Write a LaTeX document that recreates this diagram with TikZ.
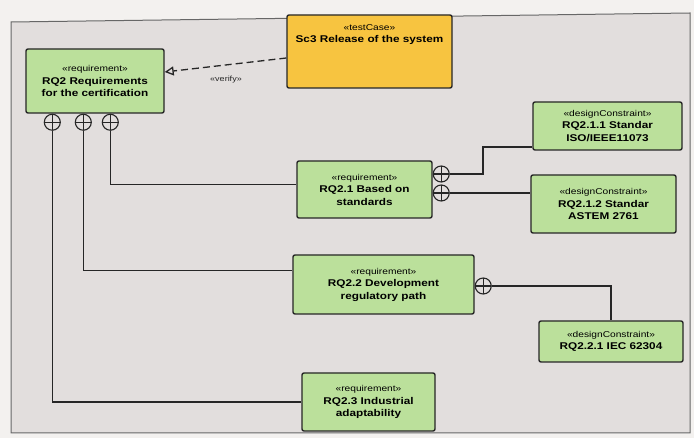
\documentclass[tikz,border=0pt]{standalone}
\usepackage{fontspec}
\newfontfamily\umlfont{Liberation Sans}[FakeStretch=1.2]
\usetikzlibrary{arrows.meta,calc}
\definecolor{panel}{HTML}{E2DEDD}
\definecolor{paper}{HTML}{F3F1EF}
\definecolor{boxgreen}{HTML}{BBE09B}
\definecolor{boxyellow}{HTML}{F7C440}
\definecolor{ink}{HTML}{262626}
\newcommand{\umlst}[1]{{\fontsize{8.5}{12.5}\selectfont\mdseries «#1»}}
\begin{document}
\begin{tikzpicture}[x=1pt,y=-1pt,
  umlbox/.style={draw=ink, line width=1.4pt, rounded corners=2pt, fill=boxgreen,
    inner sep=0pt, align=center, font=\umlfont\fontsize{9.8}{12.5}\selectfont\bfseries},
  tcbox/.style={umlbox, fill=boxyellow},
  contain/.style={circle, draw=ink, line width=1.1pt, fill=panel, minimum size=16pt, inner sep=0pt,
    path picture={\draw[ink, line width=1.1pt] (path picture bounding box.north) -- (path picture bounding box.south)
      (path picture bounding box.west) -- (path picture bounding box.east);}},
  conn/.style={draw=ink, line width=1.1pt},
  realize/.style={draw=ink, line width=1.3pt, dash pattern=on 7pt off 4pt,
    -{Triangle[open, length=9pt, width=9pt]}}
]
\useasboundingbox (0,0) rectangle (694,438);
\fill[paper] (0,0) rectangle (694,438);
\draw[fill=panel, draw=ink!70, line width=1pt] (11,22) -- (690,13) -- (690,433) -- (11,433) -- cycle;

% boxes
\node[umlbox, minimum width=138pt, minimum height=64pt] (rq2) at (95,81)
  {\umlst{requirement}\\RQ2 Requirements\\for the certification};
\node[tcbox, minimum width=165pt, minimum height=73pt] (tc) at (369.5,51.5) {};
\node[font=\umlfont\fontsize{9.8}{12.5}\selectfont\bfseries, align=center, anchor=north, inner sep=0pt]
  (tctext) at ($(tc.north)+(0,10)$) {\umlst{testCase}\\Sc3 Release of the system};
\node[umlbox, minimum width=135pt, minimum height=57pt] (rq21) at (364.5,189.5)
  {\umlst{requirement}\\RQ2.1 Based on\\standards};
\node[umlbox, minimum width=181pt, minimum height=59pt] (rq22) at (383.5,284.5)
  {\umlst{requirement}\\RQ2.2 Development\\regulatory path};
\node[umlbox, minimum width=133pt, minimum height=58pt] (rq23) at (368.5,402)
  {\umlst{requirement}\\RQ2.3 Industrial\\adaptability};
\node[umlbox, minimum width=149pt, minimum height=48pt] (c111) at (607.5,126)
  {\umlst{designConstraint}\\RQ2.1.1 Standar\\ISO/IEEE11073};
\node[umlbox, minimum width=145pt, minimum height=58pt] (c112) at (603.5,204)
  {\umlst{designConstraint}\\RQ2.1.2 Standar\\ASTEM 2761};
\node[umlbox, minimum width=144pt, minimum height=41pt] (c221) at (611,341.5)
  {\umlst{designConstraint}\\RQ2.2.1 IEC 62304};

% containment circles
\node[contain, anchor=north] (k1) at ($(rq2.south west)+(27,0)$) {};
\node[contain, anchor=north] (k2) at ($(rq2.south west)+(58,0)$) {};
\node[contain, anchor=north] (k3) at ($(rq2.south west)+(85,0)$) {};
\node[contain, anchor=west] (k4) at ([yshift=15.5pt]rq21.east) {};
\node[contain, anchor=west] (k5) at ([yshift=-3.5pt]rq21.east) {};
\node[contain, anchor=west] (k6) at ([yshift=-1.5pt]rq22.east) {};

% connectors
\draw[conn] (k1.south) |- (rq23.west);
\draw[conn] (k2.south) |- ([yshift=14pt]rq22.west);
\draw[conn] (k3.south) |- ([yshift=5pt]rq21.west);
\coordinate (b1) at (483,147);
\draw[conn] (k4.east) -| (b1) -- (b1 -| c111.west);
\draw[conn] (k5.east) -- (k5.east -| c112.west);
\draw[conn] (k6.east) -| (c221.north);

% verify dependency
\draw[realize] ([yshift=-6.5pt]tc.west) -- ([yshift=9pt]rq2.east);
\node[font=\umlfont\fontsize{7.5}{9}\selectfont, text=ink] (vl) at (226,80) {«verify»};
\end{tikzpicture}
\end{document}
